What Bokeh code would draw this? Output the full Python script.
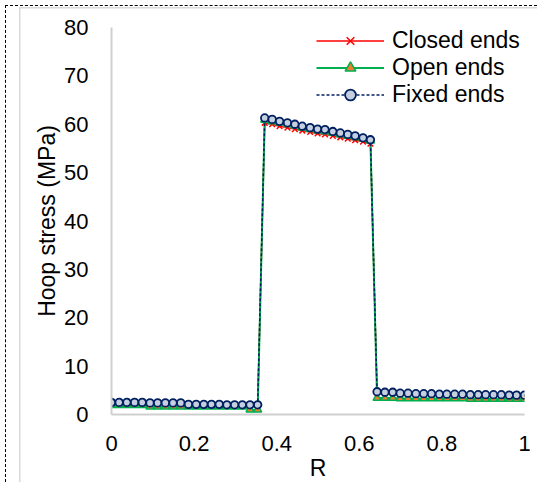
from bokeh.plotting import figure
from bokeh.models import Range1d, Legend, LegendItem, FixedTicker
from bokeh.embed import file_html
from bokeh.resources import INLINE

# ---- data ----
R = [0.000, 0.0186, 0.0373, 0.0559, 0.0745, 0.0932, 0.1118, 0.1304, 0.1491, 0.1677,
     0.1863, 0.2050, 0.2236, 0.2422, 0.2609, 0.2795, 0.2981, 0.3168, 0.3354, 0.354,
     0.371, 0.389, 0.407, 0.426, 0.444, 0.462, 0.481, 0.499, 0.517, 0.536,
     0.554, 0.572, 0.590, 0.609, 0.627,
     0.643, 0.662, 0.681, 0.699, 0.718, 0.737, 0.756, 0.775, 0.794, 0.812,
     0.831, 0.850, 0.869, 0.888, 0.906, 0.925, 0.944, 0.963, 0.981, 1.000]

closed_ends = [2.5, 2.5, 2.4, 2.5, 2.4, 2.4, 2.4, 2.3, 2.4, 2.3,
               2.1, 2.1, 2.0, 2.1, 2.0, 2.0, 2.0, 1.9, 2.0, 1.9,
               60.3, 60.0, 59.6, 59.3, 59.0, 58.7, 58.4, 58.1, 57.9, 57.6,
               57.3, 57.0, 56.7, 56.4, 56.0,
               4.6, 4.5, 4.5, 4.3, 4.3, 4.2, 4.2, 4.2, 4.1, 4.1,
               4.1, 4.1, 4.0, 4.0, 4.0, 4.0, 4.0, 3.9, 3.9, 3.9]

open_ends = [1.9, 1.9, 1.9, 1.9, 1.9, 1.6, 1.6, 1.6, 1.6, 1.6,
             1.6, 1.6, 1.6, 1.6, 1.6, 1.6, 1.6, 1.6, 1.0, 1.0,
             60.9, 60.6, 60.3, 60.0, 59.7, 59.3, 59.0, 58.7, 58.5, 58.2,
             57.9, 57.6, 57.3, 57.0, 56.6,
             3.4, 3.4, 3.4, 3.3, 3.3, 3.3, 3.3, 3.3, 3.3, 3.3,
             3.3, 3.3, 3.2, 3.2, 3.2, 3.2, 3.2, 3.2, 3.2, 3.2]

fixed_ends = [2.5, 2.5, 2.5, 2.5, 2.5, 2.4, 2.4, 2.4, 2.4, 2.4,
              2.1, 2.1, 2.1, 2.1, 2.1, 2.0, 2.0, 2.0, 2.0, 2.0,
              61.3, 61.0, 60.6, 60.3, 60.0, 59.6, 59.3, 59.0, 58.9, 58.5,
              58.2, 57.9, 57.6, 57.2, 56.8,
              4.7, 4.6, 4.6, 4.4, 4.4, 4.3, 4.3, 4.3, 4.2, 4.2,
              4.2, 4.2, 4.1, 4.1, 4.1, 4.1, 4.1, 4.0, 4.0, 4.0]

x_ticks = [0, 0.2, 0.4, 0.6, 0.8, 1]
x_tick_labels = ["0", "0.2", "0.4", "0.6", "0.8", "1"]
y_ticks = [0, 10, 20, 30, 40, 50, 60, 70, 80]

FONT = "Liberation Sans"

p = figure(width=532, height=477, output_backend="svg", toolbar_location=None,
           x_range=Range1d(0, 1), y_range=Range1d(0, 80),
           min_border_left=105, min_border_right=14, min_border_top=21, min_border_bottom=69)
p.styles = {
    "margin-left": "5px", "margin-top": "5px",
    "border-left": "1.5px dashed black", "border-top": "1.5px dashed black",
    "background-color": "white",
    "background-image": "linear-gradient(#d9d9d9, #d9d9d9), linear-gradient(#d9d9d9, #d9d9d9)",
    "background-size": "1.5px 100%, 100% 1.5px",
    "background-position": "13px 1px, 13px 1px",
    "background-repeat": "no-repeat",
}
p.outline_line_color = None
p.grid.grid_line_color = None
p.background_fill_color = "white"
p.border_fill_alpha = 0

for ax in (p.xaxis[0], p.yaxis[0]):
    ax.axis_line_color = "#d0d0d0"
    ax.axis_line_width = 2
    ax.major_tick_line_color = None
    ax.minor_tick_line_color = None
    ax.major_label_text_font = FONT
    ax.major_label_text_font_size = "22px"
    ax.major_label_text_color = "black"
    ax.axis_label_text_font = FONT
    ax.axis_label_text_font_style = "normal"
    ax.axis_label_text_font_size = "23px"
    ax.axis_label_text_color = "black"

p.xaxis.ticker = FixedTicker(ticks=x_ticks)
p.xaxis.major_label_overrides = {t: l for t, l in zip(x_ticks, x_tick_labels)}
p.yaxis.ticker = FixedTicker(ticks=y_ticks)
p.xaxis.major_label_standoff = 15
p.yaxis.major_label_standoff = 17
p.xaxis.axis_label = "R"
p.xaxis.axis_label_standoff = 1
p.yaxis.axis_label = "Hoop stress (MPa)"
p.yaxis.axis_label_standoff = 1

RED = "#ff0000"
GREEN = "#00b050"
NAVY = "#002060"

l1 = p.line(R, closed_ends, line_color=RED, line_width=1.5)
m1 = p.scatter(R, closed_ends, marker="x", size=8, line_color=RED, line_width=1.5)
l2 = p.line(R, open_ends, line_color=GREEN, line_width=2)
m2 = p.scatter(R, open_ends, marker="triangle", size=8, line_color=GREEN, fill_color="#ed7d31", line_width=1.5)
l3 = p.line(R, fixed_ends, line_color=NAVY, line_width=1.5, line_dash="3 2")
m3 = p.scatter(R, fixed_ends, marker="circle", size=7.5, line_color=NAVY, fill_color="#c5cfe0", line_width=1.8)

legend = Legend(items=[LegendItem(label="Closed ends", renderers=[l1, m1]),
                       LegendItem(label="Open ends", renderers=[l2, m2]),
                       LegendItem(label="Fixed ends", renderers=[l3, m3])],
                location=(205, 306))
legend.border_line_color = None
legend.background_fill_alpha = 0
legend.label_text_font = FONT
legend.label_text_font_size = "23px"
legend.label_text_color = "black"
legend.glyph_width = 68
legend.glyph_height = 27
legend.label_height = 27
legend.label_standoff = 8
legend.spacing = 0
legend.padding = 0
legend.margin = 0
p.add_layout(legend)

open("out.html", "w").write(file_html(p, INLINE))
